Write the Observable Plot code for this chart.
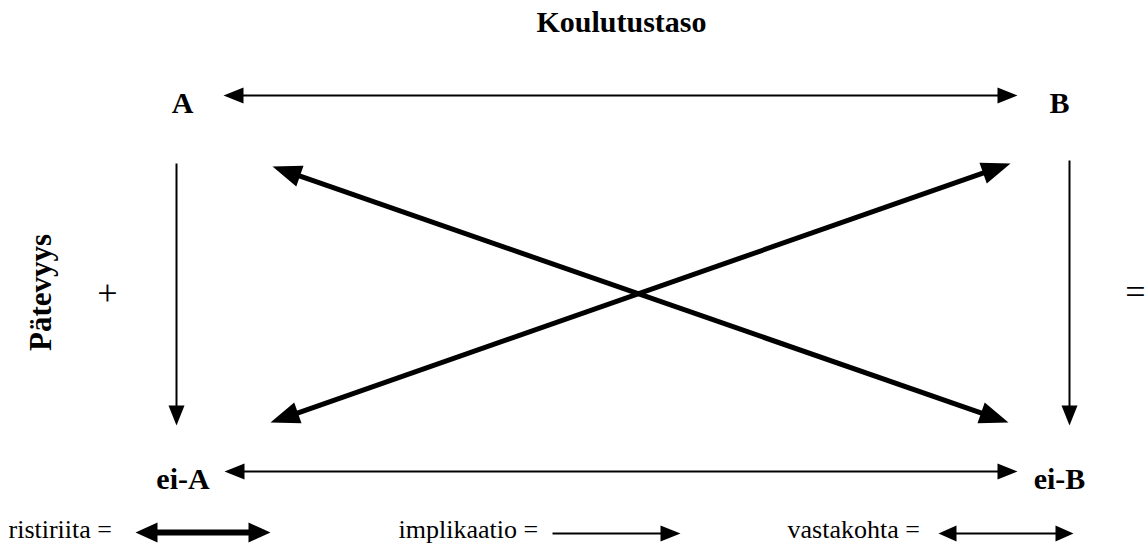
<!DOCTYPE html>
<html><head><meta charset="utf-8">
<script src="https://cdn.jsdelivr.net/npm/d3@7"></script>
<script src="https://cdn.jsdelivr.net/npm/@observablehq/plot@0.6"></script>
<style>body{margin:0;background:#fff} svg{display:block}</style>
</head><body><div id="chart"></div>
<script>
// ---- content ----
const title = "Koulutustaso";
const axisLabel = "Pätevyys";
const terms = ["A", "B", "ei-A", "ei-B"];
const relationNames = ["ristiriita", "implikaatio", "vastakohta"];
const relationFrom = ["A", "ei-A", "A", "B", "A", "B"];
const relationTo = ["B", "ei-B", "ei-A", "ei-B", "ei-B", "ei-A"];
const relationType = ["vastakohta", "vastakohta", "implikaatio", "implikaatio", "ristiriita", "ristiriita"];
const sideMarks = ["+", "="];

// ---- layout (diagram coordinate space) ----
const W = 1148, H = 545;
const termPos = {"A": [182, 112], "B": [1059, 112], "ei-A": [182.5, 488], "ei-B": [1059, 488]};
const arrowPos = {
  "A|B": [[223, 95], [1017, 95]],
  "ei-A|ei-B": [[224, 471], [1017, 471]],
  "A|ei-A": [[176, 163], [176, 425]],
  "B|ei-B": [[1069, 160], [1069, 425]],
  "A|ei-B": [[272, 166], [1008, 422]],
  "B|ei-A": [[1010, 163], [270, 422]]
};
const legendText = {"ristiriita": [8, 537], "implikaatio": [398, 537], "vastakohta": [787, 537]};
const legendArrow = {"ristiriita": [[135, 532], [270, 532]], "implikaatio": [[552, 533], [680, 533]], "vastakohta": [[938, 533], [1073, 533]]};
const sidePos = {"+": [107, 293], "=": [1135, 292]};
const style = {
  ristiriita: {sw: 5, L: 29, HW: 11, both: true},
  implikaatio: {sw: 2, L: 20, HW: 8, both: false},
  vastakohta: {sw: 2, L: 20, HW: 8, both: true}
};
const legendStyle = {
  ristiriita: {sw: 6, L: 22, HW: 10, both: true},
  implikaatio: {sw: 2, L: 20, HW: 8, both: false},
  vastakohta: {sw: 2, L: 18, HW: 8, both: true}
};

function makeHead(L, HW) {
  return {draw(ctx) { ctx.moveTo(0, 0); ctx.lineTo(-L, -HW); ctx.lineTo(-L, HW); ctx.closePath(); }};
}

const segments = [], heads = [];
function addArrow(p1, p2, type, st) {
  const dx = p2[0] - p1[0], dy = p2[1] - p1[1];
  const len = Math.hypot(dx, dy), ux = dx / len, uy = dy / len;
  const ang = Math.atan2(dy, dx) * 180 / Math.PI;
  const cut = st.L * 0.8;
  const s = st.both ? [p1[0] + ux * cut, p1[1] + uy * cut] : p1;
  const e = [p2[0] - ux * cut, p2[1] - uy * cut];
  segments.push({x1: s[0], y1: s[1], x2: e[0], y2: e[1], sw: st.sw});
  heads.push({x: p2[0], y: p2[1], angle: ang, type, st});
  if (st.both) heads.push({x: p1[0], y: p1[1], angle: ang + 180, type, st});
}
relationType.forEach((t, i) => {
  const [p1, p2] = arrowPos[relationFrom[i] + "|" + relationTo[i]];
  addArrow(p1, p2, t, style[t]);
});
relationNames.forEach(t => {
  const [p1, p2] = legendArrow[t];
  addArrow(p1, p2, t + "-legend", legendStyle[t]);
});

const headGroups = d3.groups(heads, d => d.type);
const font = "'Liberation Serif', 'Times New Roman', serif";

const chart = Plot.plot({
  width: W, height: H,
  margin: 0,
  x: {domain: [0, W], range: [0, W], axis: null},
  y: {domain: [0, H], range: [0, H], axis: null},
  style: {fontFamily: font, background: "white", color: "black"},
  marks: [
    Plot.link(segments, {x1: "x1", y1: "y1", x2: "x2", y2: "y2", stroke: "black", strokeWidth: "sw", strokeLinecap: "butt"}),
    ...headGroups.map(([t, hs]) => Plot.dot(hs, {x: "x", y: "y", rotate: "angle", symbol: makeHead(hs[0].st.L, hs[0].st.HW), fill: "black", stroke: "none"})),
    Plot.text(terms, {x: d => termPos[d][0], y: d => termPos[d][1], text: d => d, fontSize: 30, fontWeight: "bold", textAnchor: "middle", lineAnchor: "bottom", fill: "black"}),
    Plot.text([title], {x: 621, y: 31, text: d => d, fontSize: 30, fontWeight: "bold", textAnchor: "middle", lineAnchor: "bottom", fill: "black"}),
    Plot.text([axisLabel], {x: 41, y: 292, text: d => d, fontSize: 31, fontWeight: "bold", rotate: -90, textAnchor: "middle", lineAnchor: "middle", fill: "black"}),
    Plot.text(sideMarks, {x: d => sidePos[d][0], y: d => sidePos[d][1], text: d => d, fontSize: 36, textAnchor: "middle", lineAnchor: "middle", fill: "black"}),
    Plot.text(relationNames, {x: d => legendText[d][0], y: d => legendText[d][1], text: d => d + " =", fontSize: 26, textAnchor: "start", lineAnchor: "bottom", fill: "black"})
  ]
});
document.getElementById("chart").appendChild(chart);
</script>
</body></html>
